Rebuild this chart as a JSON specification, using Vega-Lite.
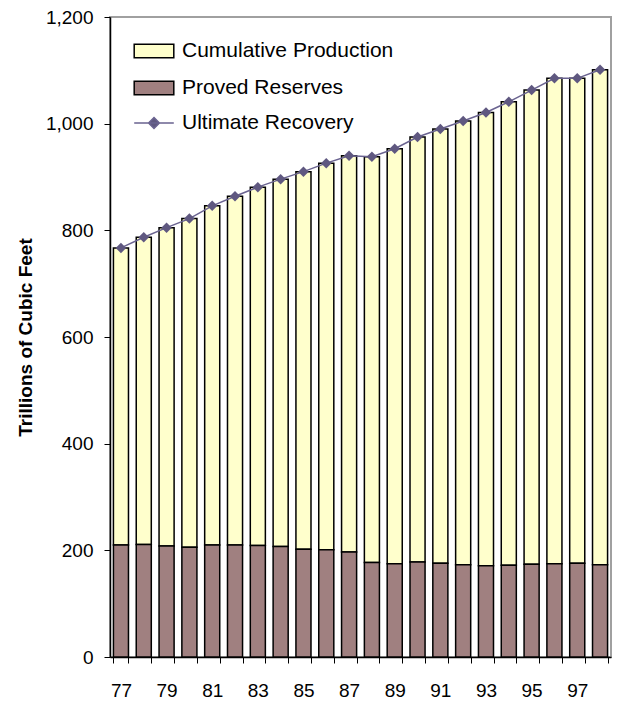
{
  "$schema": "https://vega.github.io/schema/vega-lite/v6.json",
  "width": 501,
  "height": 640,
  "autosize": {"type": "none"},
  "padding": {"left": 110, "top": 17, "right": 9, "bottom": 45},
  "background": "white",
  "config": {
    "view": {"stroke": "#a0a0a0", "strokeWidth": 2},
    "font": "Liberation Sans",
    "axis": {"labelFont": "Liberation Sans", "labelColor": "black", "domainColor": "black", "tickColor": "black", "grid": false}
  },
  "data": {
    "values": [
      {"year": 77, "reserves": 210, "production": 557, "ultimate": 767},
      {"year": 78, "reserves": 211, "production": 576, "ultimate": 787},
      {"year": 79, "reserves": 208, "production": 597, "ultimate": 805},
      {"year": 80, "reserves": 206, "production": 616, "ultimate": 822},
      {"year": 81, "reserves": 210, "production": 636, "ultimate": 846},
      {"year": 82, "reserves": 210, "production": 654, "ultimate": 864},
      {"year": 83, "reserves": 209, "production": 672, "ultimate": 881},
      {"year": 84, "reserves": 207, "production": 689, "ultimate": 896},
      {"year": 85, "reserves": 202, "production": 708, "ultimate": 910},
      {"year": 86, "reserves": 201, "production": 725, "ultimate": 926},
      {"year": 87, "reserves": 197, "production": 743, "ultimate": 940},
      {"year": 88, "reserves": 177, "production": 761, "ultimate": 938},
      {"year": 89, "reserves": 175, "production": 778, "ultimate": 953},
      {"year": 90, "reserves": 178, "production": 797, "ultimate": 975},
      {"year": 91, "reserves": 176, "production": 814, "ultimate": 990},
      {"year": 92, "reserves": 173, "production": 832, "ultimate": 1005},
      {"year": 93, "reserves": 171, "production": 850, "ultimate": 1021},
      {"year": 94, "reserves": 172, "production": 869, "ultimate": 1041},
      {"year": 95, "reserves": 174, "production": 889, "ultimate": 1063},
      {"year": 96, "reserves": 175, "production": 910, "ultimate": 1085},
      {"year": 97, "reserves": 176, "production": 909, "ultimate": 1085},
      {"year": 98, "reserves": 173, "production": 928, "ultimate": 1101}
    ]
  },
  "layer": [
    {
      "transform": [{"fold": ["production", "reserves"], "as": ["series", "value"]}],
      "mark": {"type": "bar", "stroke": "black", "strokeWidth": 1.5},
      "encoding": {
        "x": {
          "field": "year", "type": "ordinal",
          "scale": {"paddingInner": 0.34, "paddingOuter": 0.15},
          "axis": {"title": null, "labelAngle": 0, "labelFontSize": 19, "tickBand": "extent", "tickSize": 6, "labelPadding": 18, "domainWidth": 1.5,
                   "labelExpr": "datum.value % 2 == 1 ? datum.label : ''"}
        },
        "y": {
          "field": "value", "type": "quantitative", "stack": "zero",
          "scale": {"domain": [0, 1200], "nice": false},
          "axis": {"title": "Trillions of Cubic Feet", "titleFontSize": 19, "titleFontWeight": "bold", "titleColor": "black", "titlePadding": 10,
                   "values": [0, 200, 400, 600, 800, 1000, 1200], "labelExpr": "format(datum.value, ',')", "labelFontSize": 19, "tickSize": 6, "labelPadding": 11, "domainWidth": 1.5}
        },
        "fill": {
          "field": "series", "type": "nominal",
          "scale": {"domain": ["production", "reserves"], "range": ["#ffffcc", "#a08080"]},
          "legend": {
            "title": null, "orient": "none", "legendX": 25, "legendY": 15, "padding": 0,
            "symbolType": "M-1.1,-0.38H1.1V0.38H-1.1Z", "symbolSize": 1296, "symbolStrokeColor": "black", "symbolStrokeWidth": 1.5,
            "labelFontSize": 21, "labelColor": "black", "labelOffset": 9, "rowPadding": 8, "labelLimit": 400,
            "labelExpr": "datum.label == 'production' ? 'Cumulative Production' : 'Proved Reserves'"
          }
        },
        "order": {"field": "series", "sort": "descending"}
      }
    },
    {
      "mark": {"type": "line", "strokeWidth": 1.5},
      "encoding": {
        "x": {"field": "year", "type": "ordinal"},
        "y": {"field": "ultimate", "type": "quantitative",
              "axis": {"title": "Trillions of Cubic Feet", "titleFontSize": 19, "titleFontWeight": "bold", "titleColor": "black", "titlePadding": 10,
                       "values": [0, 200, 400, 600, 800, 1000, 1200], "labelExpr": "format(datum.value, ',')", "labelFontSize": 19, "tickSize": 6, "labelPadding": 11, "domainWidth": 1.5}},
        "stroke": {
          "datum": "Ultimate Recovery",
          "scale": {"range": ["#6a6390"]},
          "legend": {
            "title": null, "orient": "none", "legendX": 25, "legendY": 87, "padding": 0,
            "symbolType": "M-1.1,0H1.1M0,-0.3L0.3,0L0,0.3L-0.3,0Z", "symbolSize": 1296, "symbolStrokeWidth": 1.5, "symbolFillColor": "#5f5880",
            "labelFontSize": 21, "labelColor": "black", "labelOffset": 9, "rowPadding": 0, "labelLimit": 400
          }
        }
      }
    },
    {
      "mark": {"type": "point", "shape": "diamond", "filled": true, "size": 110, "color": "#5f5880", "opacity": 1},
      "encoding": {
        "x": {"field": "year", "type": "ordinal"},
        "y": {"field": "ultimate", "type": "quantitative",
              "axis": {"title": "Trillions of Cubic Feet", "titleFontSize": 19, "titleFontWeight": "bold", "titleColor": "black", "titlePadding": 10,
                       "values": [0, 200, 400, 600, 800, 1000, 1200], "labelExpr": "format(datum.value, ',')", "labelFontSize": 19, "tickSize": 6, "labelPadding": 11, "domainWidth": 1.5}}
      }
    }
  ]
}
